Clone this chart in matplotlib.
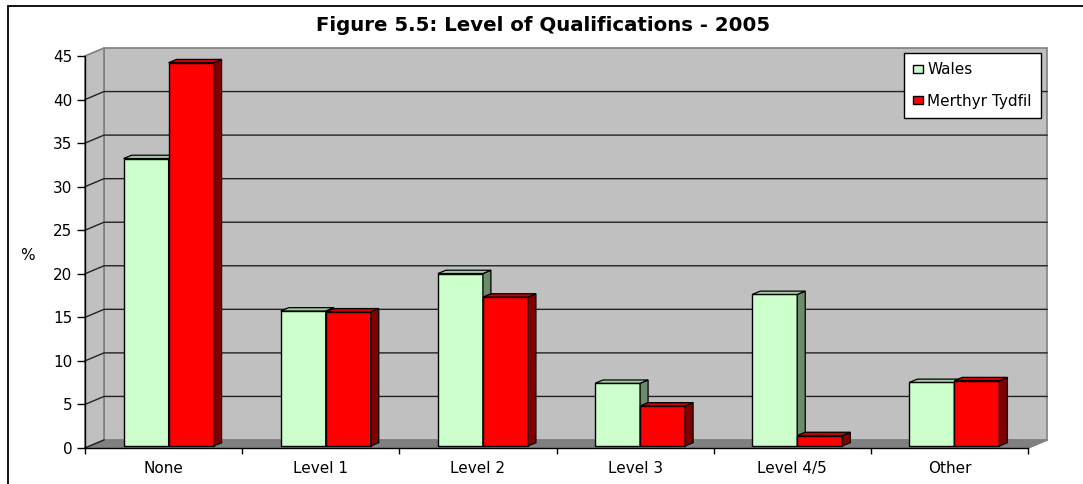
import matplotlib
matplotlib.use("Agg")
import matplotlib.pyplot as plt
from matplotlib.patches import Polygon, Rectangle
from matplotlib.lines import Line2D
import numpy as np

# ---------------- data ----------------
categories = ["None", "Level 1", "Level 2", "Level 3", "Level 4/5", "Other"]
wales = [33.0, 15.5, 19.8, 7.2, 17.4, 7.3]
merthyr = [44.0, 15.4, 17.1, 4.6, 1.2, 7.5]
series_names = ["Wales", "Merthyr Tydfil"]
yticks = [0, 5, 10, 15, 20, 25, 30, 35, 40, 45]
title = "Figure 5.5: Level of Qualifications - 2005"
ylabel = "%"

# ---------------- style ----------------
W, H, DPI = 1083, 484, 100
FONT = "DejaVu Sans"
wales_front, wales_top, wales_side = "#CCFFCC", "#A3CCA3", "#6B8B6B"
mer_front, mer_top, mer_side = "#FF0000", "#CC0000", "#800000"
wall_c, floor_c, wall_edge = "#C0C0C0", "#808080", "#808080"

fig = plt.figure(figsize=(W / DPI, H / DPI), dpi=DPI)
plt.rcParams["font.family"] = FONT

# front plane of the chart in pixels (top-down coords)
ax_l, ax_r, ax_top, ax_bot = 85, 1028, 56, 448
ax = fig.add_axes([ax_l / W, 1 - ax_bot / H, (ax_r - ax_l) / W, (ax_bot - ax_top) / H])
ax.set_xlim(-0.5, len(categories) - 0.5)
ax.set_ylim(0, 45)
ax.patch.set_visible(False)

ppx = (ax_r - ax_l) / len(categories)   # pixels per category
ppy = (ax_bot - ax_top) / 45.0           # pixels per unit

def d(px, py):
    return px / ppx, py / ppy

DX, DY = d(19, 8)          # full depth of the chart
BX, BY = d(5, 2)           # bar front plane
BDX, BDY = d(8, 3.3)       # bar depth
xmin, xmax = -0.5, len(categories) - 0.5

# outer frame
fig.patches.append(Rectangle((8 / W, -0.1), 1.2, 1 - 6 / H + 0.1, transform=fig.transFigure,
                             fill=False, edgecolor="black", linewidth=1.3, zorder=0))

# back wall
ax.add_patch(Rectangle((xmin + DX, DY), xmax - xmin, 45, facecolor=wall_c,
                       edgecolor=wall_edge, linewidth=1.2, clip_on=False, zorder=1))
# left wall
ax.add_patch(Polygon([(xmin, 0), (xmin, 45), (xmin + DX, 45 + DY), (xmin + DX, DY)],
                     closed=True, facecolor=wall_c, edgecolor=wall_edge, linewidth=1.2,
                     clip_on=False, zorder=1))
# floor
ax.add_patch(Polygon([(xmin, 0), (xmax, 0), (xmax + DX, DY), (xmin + DX, DY)],
                     closed=True, facecolor=floor_c, edgecolor=floor_c, linewidth=0.8,
                     clip_on=False, zorder=1))
# gridlines
for v in yticks[1:-1]:
    ax.add_line(Line2D([xmin, xmin + DX, xmax + DX], [v, v + DY, v + DY], color="#222222",
                       linewidth=1.0, clip_on=False, zorder=2))
ax.add_line(Line2D([xmin, xmin + DX], [0, DY], color="#222222", linewidth=1.0,
                   clip_on=False, zorder=2))
ax.add_line(Line2D([xmax, xmax + DX], [0, DY], color=wall_edge, linewidth=1.2,
                   clip_on=False, zorder=2))

# bars
bw = 45 / ppx
x = np.arange(len(categories))
series = [(wales, wales_front, wales_top, wales_side, -bw),
          (merthyr, mer_front, mer_top, mer_side, 0.0)]
for vals, fc, tc, sc, off in series:
    ax.bar(x + off + BX, vals, width=bw, bottom=BY, align="edge", color=fc,
           edgecolor="black", linewidth=1.0, zorder=3, clip_on=False)
    for xi, v in zip(x, vals):
        x0 = xi + off + BX
        x1 = x0 + bw
        top = v + BY
        ax.add_patch(Polygon([(x1, BY), (x1, top), (x1 + BDX, top + BDY), (x1 + BDX, BY + BDY)],
                             closed=True, facecolor=sc, edgecolor="black", linewidth=0.9,
                             zorder=3, clip_on=False))
        ax.add_patch(Polygon([(x0, top), (x1, top), (x1 + BDX, top + BDY), (x0 + BDX, top + BDY)],
                             closed=True, facecolor=tc, edgecolor="black", linewidth=0.9,
                             zorder=3, clip_on=False))

# axes / ticks
for s in ["top", "right"]:
    ax.spines[s].set_visible(False)
for s in ["left", "bottom"]:
    ax.spines[s].set_color("black")
    ax.spines[s].set_linewidth(1.0)
    ax.spines[s].set_zorder(4)
ax.set_yticks(yticks)
ax.set_yticklabels([str(t) for t in yticks])
ax.tick_params(axis="y", length=5.5, width=1.0, pad=3.5, labelsize=11)
ax.set_xticks(x)
ax.set_xticklabels(categories, va="baseline")
ax.set_xticks(np.arange(len(categories) + 1) - 0.5, minor=True)
ax.tick_params(axis="x", which="major", length=0, pad=18, labelsize=11)
ax.tick_params(axis="x", which="minor", length=4, width=1.0)

fig.text(27 / W, 1 - 256 / H, ylabel, ha="center", va="center", fontsize=11)
fig.text(543 / W, 1 - 25.5 / H, title, ha="center", va="center", fontsize=14.2,
         fontweight="bold")

leg = fig.legend([Rectangle((0, 0), 1, 1, facecolor=wales_front, edgecolor="black"),
                  Rectangle((0, 0), 1, 1, facecolor=mer_front, edgecolor="black")],
                 series_names, loc="upper left", bbox_to_anchor=(904 / W, 1 - 53 / H),
                 frameon=True, fancybox=False, edgecolor="black", framealpha=1,
                 fontsize=11, handlelength=0.62, handleheight=0.5, handletextpad=0.28,
                 labelspacing=1.05, borderpad=0.62, borderaxespad=0)
leg.get_frame().set_linewidth(1.0)

fig.savefig("out.png", dpi=DPI)
